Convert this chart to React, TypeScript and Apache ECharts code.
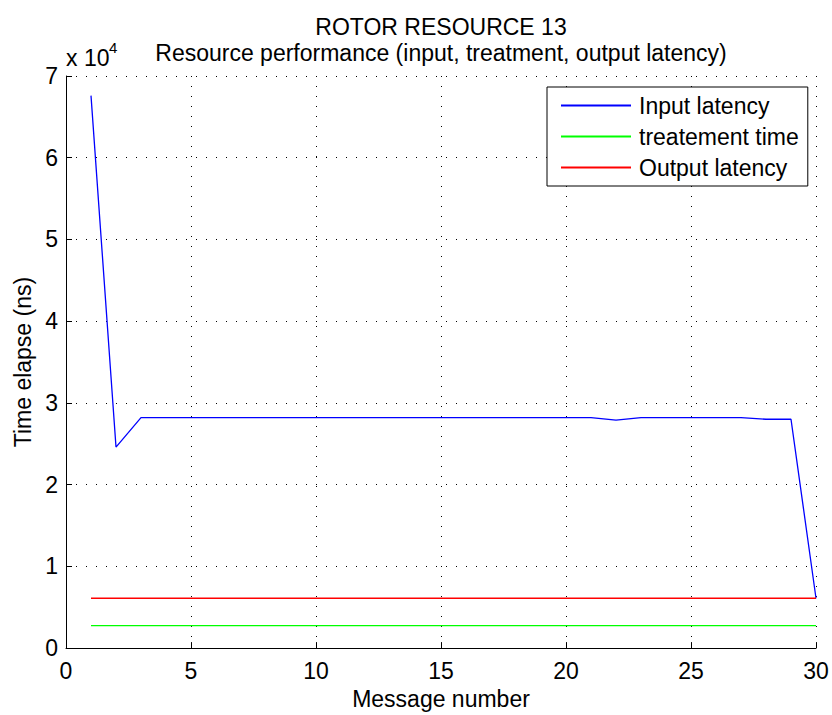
import React, { useEffect, useRef } from "react";
import * as echarts from "echarts";

const messageNumbers = [1, 2, 3, 4, 5, 6, 7, 8, 9, 10, 11, 12, 13, 14, 15, 16, 17, 18, 19, 20, 21, 22, 23, 24, 25, 26, 27, 28, 29, 30];
const inputLatency = [67600, 24600, 28200, 28200, 28200, 28200, 28200, 28200, 28200, 28200, 28200, 28200, 28200, 28200, 28200, 28200, 28200, 28200, 28200, 28200, 28200, 27900, 28200, 28200, 28200, 28200, 28200, 28000, 28000, 6100];
const treatmentTime = [2750, 2750, 2750, 2750, 2750, 2750, 2750, 2750, 2750, 2750, 2750, 2750, 2750, 2750, 2750, 2750, 2750, 2750, 2750, 2750, 2750, 2750, 2750, 2750, 2750, 2750, 2750, 2750, 2750, 2750];
const outputLatency = [6100, 6100, 6100, 6100, 6100, 6100, 6100, 6100, 6100, 6100, 6100, 6100, 6100, 6100, 6100, 6100, 6100, 6100, 6100, 6100, 6100, 6100, 6100, 6100, 6100, 6100, 6100, 6100, 6100, 6100];
const seriesNames = ["Input latency", "treatement time", "Output latency"];
const seriesColors = ["#0000ff", "#00ff00", "#ff0000"];

const FONT = "'Liberation Sans', Arial, Helvetica, sans-serif";
const FS = 23;

export default function App() {
  const ref = useRef<HTMLDivElement>(null);
  useEffect(() => {
    if (!ref.current) return;
    const chart = echarts.init(ref.current, null, { renderer: "svg" });
    const pairs = (vals: number[]) => messageNumbers.map((x, i) => [x, vals[i]]);
    const allValues = [inputLatency, treatmentTime, outputLatency];
    const gridDots = { type: [1, 9] as number[], color: "#000", width: 1 };
    chart.setOption({
      animation: false,
      backgroundColor: "#fff",
      textStyle: { fontFamily: FONT },
      title: [
        {
          text: "ROTOR RESOURCE 13",
          left: 441,
          textAlign: "center",
          top: 15,
          padding: 0,
          textStyle: { fontFamily: FONT, fontSize: FS, fontWeight: "normal", color: "#000" },
        },
        {
          text: "Resource performance (input, treatment, output latency)",
          left: 441,
          textAlign: "center",
          top: 41,
          padding: 0,
          textStyle: { fontFamily: FONT, fontSize: FS, fontWeight: "normal", color: "#000" },
        },
      ],
      graphic: [
        {
          type: "text",
          left: 66,
          top: 46,
          style: { text: "x 10", fontFamily: FONT, fontSize: FS, fill: "#000" },
        },
        {
          type: "text",
          left: 109,
          top: 40,
          style: { text: "4", fontFamily: FONT, fontSize: 15, fill: "#000" },
        },
      ],
      legend: {
        orient: "vertical",
        left: 547,
        top: 87,
        data: seriesNames,
        borderColor: "#000",
        borderWidth: 1,
        borderRadius: 0,
        backgroundColor: "#fff",
        padding: [6, 9, 6, 13],
        itemWidth: 70,
        itemHeight: 25,
        itemGap: 6,
        itemStyle: { color: "rgba(0,0,0,0)", borderWidth: 0, opacity: 0 },
        textStyle: { fontFamily: FONT, fontSize: FS, color: "#000", lineHeight: 25, padding: [0, 0, 0, 3] },
      },
      grid: { left: 66, right: 16, top: 76, bottom: 60, containLabel: false },
      xAxis: {
        type: "value",
        min: 0,
        max: 30,
        interval: 5,
        name: "Message number",
        nameLocation: "middle",
        nameGap: 30,
        nameTextStyle: { fontFamily: FONT, fontSize: FS, color: "#000" },
        axisLine: { show: true, lineStyle: { color: "#000", width: 1 } },
        axisTick: { show: true, inside: true, length: 6, lineStyle: { color: "#000" } },
        axisLabel: { fontFamily: FONT, fontSize: FS, color: "#000", margin: 11 },
        splitLine: { show: true, lineStyle: gridDots },
      },
      yAxis: {
        type: "value",
        min: 0,
        max: 70000,
        interval: 10000,
        name: "Time elapse (ns)",
        nameLocation: "middle",
        nameRotate: 90,
        nameGap: 30,
        nameTextStyle: { fontFamily: FONT, fontSize: FS, color: "#000" },
        axisLine: { show: true, lineStyle: { color: "#000", width: 1 } },
        axisTick: { show: true, inside: true, length: 6, lineStyle: { color: "#000" } },
        axisLabel: {
          fontFamily: FONT,
          fontSize: FS,
          color: "#000",
          margin: 8,
          formatter: (v: number) => String(v / 10000),
        },
        splitLine: { show: true, lineStyle: gridDots },
      },
      series: seriesNames.map((name, i) => ({
        name,
        type: "line",
        data: pairs(allValues[i]),
        showSymbol: false,
        symbol: "none",
        lineStyle: { color: seriesColors[i], width: 1.3 },
        itemStyle: { color: seriesColors[i] },
      })),
    });
    return () => chart.dispose();
  }, []);
  return <div ref={ref} style={{ width: 832, height: 715, position: "absolute", left: 0, top: 0 }} />;
}
